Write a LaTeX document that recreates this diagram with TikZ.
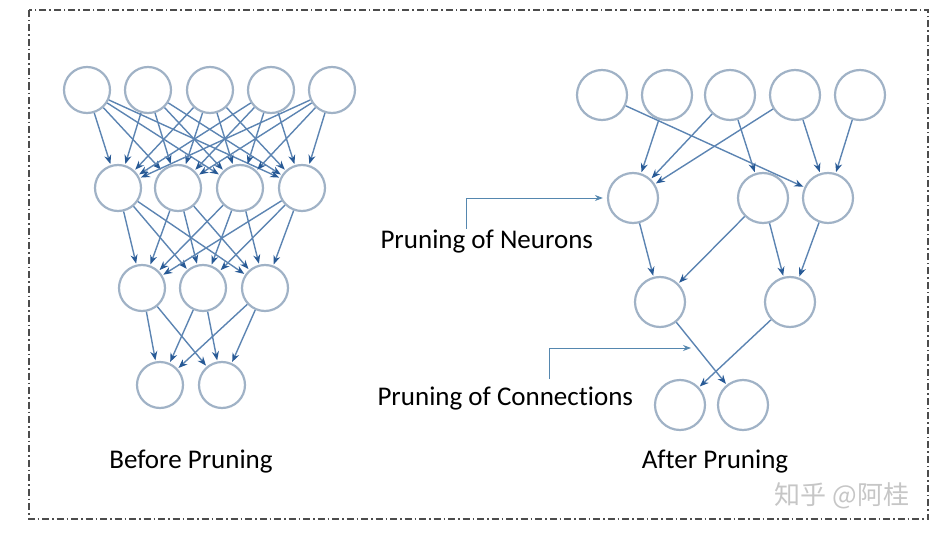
\documentclass[tikz,border=0pt]{standalone}
\usepackage{fontspec}
\setmainfont{Carlito}[Ligatures=NoCommon]
\newfontfamily\cjk{Noto Sans CJK SC}
\usetikzlibrary{arrows.meta}
\definecolor{neuroncol}{RGB}{160,178,198}
\definecolor{linkcol}{RGB}{92,132,178}
\definecolor{tipcol}{RGB}{40,90,150}
\definecolor{calloutcol}{RGB}{85,135,175}

\begin{document}
\begin{tikzpicture}[x=1pt,y=-1pt,
neuron/.style={circle, draw=neuroncol, line width=2.2pt, minimum size=46pt, inner sep=0pt},
bigneuron/.style={neuron, minimum size=50pt},
link/.style={draw=linkcol, line width=1.4pt, -{Stealth[length=9pt,width=7pt,color=tipcol]}, shorten >=1pt},
callout/.style={draw=calloutcol, line width=1pt, -{Stealth[length=8pt,width=6pt]}, shorten >=4pt},
label/.style={font=\fontsize{27}{32}\selectfont},
]
\useasboundingbox (0,0) rectangle (940,535);
\draw[gray!60!black, line width=1.1pt, dash pattern=on 7pt off 3pt on 1.5pt off 3pt]
(29,10) rectangle (928,519);

% до прунинга
\foreach \i/\x in {1/87,2/148,3/210,4/271,5/332}
\node[neuron] (b1\i) at (\x,90) {};
\foreach \i/\x in {1/118,2/178,3/240,4/302}
\node[neuron] (b2\i) at (\x,188) {};
\foreach \i/\x in {1/142,2/203,3/265}
\node[neuron] (b3\i) at (\x,288) {};
\foreach \i/\x in {1/160,2/222}
\node[neuron] (b4\i) at (\x,385) {};
\foreach \i in {1,...,5} \foreach \j in {1,...,4}
\draw[link] (b1\i) -- (b2\j);
\foreach \i in {1,...,4} \foreach \j in {1,...,3}
\draw[link] (b2\i) -- (b3\j);
\foreach \i in {1,...,3} \foreach \j in {1,2}
\draw[link] (b3\i) -- (b4\j);
\node[label] (before) at (191,462) {Before Pruning};

% после прунинга
\foreach \i/\x in {1/602,2/667,3/730,4/795,5/860}
\node[bigneuron] (a1\i) at (\x,95) {};
\foreach \i/\x in {1/633,2/763,3/828}
\node[bigneuron] (a2\i) at (\x,198) {};
\foreach \i/\x in {1/660,2/790}
\node[bigneuron] (a3\i) at (\x,302) {};
\foreach \i/\x in {1/680,2/743}
\node[bigneuron] (a4\i) at (\x,405) {};
\foreach \s/\t in {11/23,12/21,13/21,13/22,14/21,14/23,15/23}
\draw[link] (a\s) -- (a\t);
\foreach \s/\t in {21/31,22/31,22/32,23/32,31/42,32/41}
\draw[link] (a\s) -- (a\t);
\node[label] (after) at (715,462) {After Pruning};

% подписи
\node[label, anchor=west] (neurons) at (377,242) {Pruning of Neurons};
\node[label, anchor=west] (connections) at (374,399) {Pruning of Connections};
\coordinate (n0) at (466,229);
\coordinate (c0) at (549,379);
\coordinate (c1) at (691,348);
\draw[callout] (n0) |- (a21.west);
\draw[callout, shorten >=0pt] (c0) |- (c1);

\node[font=\cjk\fontsize{26}{30}\selectfont, text=gray!45] (mark) at (842,496) {知乎 @阿桂};
\end{tikzpicture}
\end{document}
